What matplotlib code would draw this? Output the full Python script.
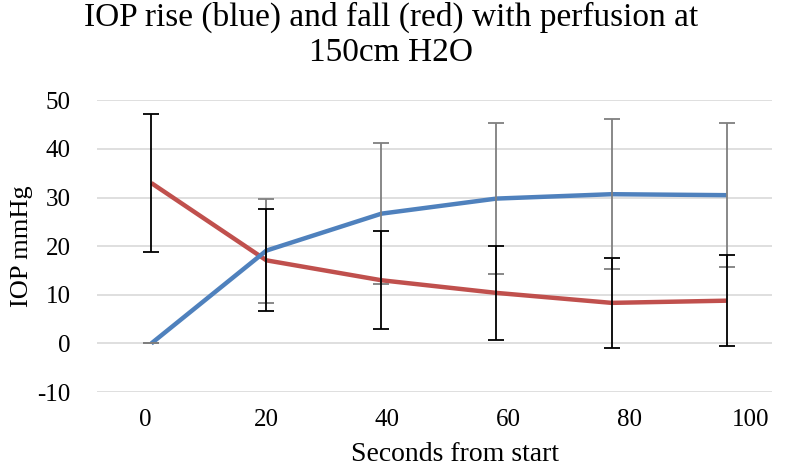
import matplotlib
matplotlib.use('Agg')
import matplotlib.pyplot as plt

# seconds from start
secs = [1, 20, 39, 58, 77, 96]

# IOP rise (blue) with its error bars
rise = [0, 19.1, 26.7, 29.8, 30.7, 30.5]
rise_err = [0, 10.7, 14.5, 15.6, 15.4, 14.8]

# IOP fall (red) with its error bars
fall = [33.0, 17.1, 13.0, 10.4, 8.35, 8.8]
fall_err = [14.2, 10.5, 10.1, 9.6, 9.2, 9.3]

xticks = [0, 20, 40, 60, 80, 100]
yticks = [-10, 0, 10, 20, 30, 40, 50]

plt.rcParams['font.family'] = ['Liberation Serif', 'DejaVu Serif']
plt.rcParams['axes.unicode_minus'] = False

fig = plt.figure(figsize=(7.87, 4.69), dpi=100)
ax = fig.add_axes([0.123, 0.164, 0.858, 0.622])

ax.plot(secs, fall, color='#C0504D', lw=3.2, solid_capstyle='butt', zorder=3)
ax.plot(secs, rise, color='#4F81BD', lw=3.2, solid_capstyle='butt', zorder=4)
ax.errorbar(secs, rise, yerr=rise_err, fmt='none', ecolor='#7f7f7f',
            elinewidth=1.3, capsize=5.5, capthick=1.3, zorder=5)
ax.errorbar(secs, fall, yerr=fall_err, fmt='none', ecolor='black',
            elinewidth=1.3, capsize=5.5, capthick=1.3, zorder=6)

ax.set_xlim(-8, 103.5)
ax.set_ylim(-10, 50)
ax.set_xticks(xticks)
ax.set_yticks(yticks)
ax.grid(axis='y', color='#d9d9d9', lw=1.2)
ax.set_axisbelow(True)
for s in ax.spines.values():
    s.set_visible(False)
ax.tick_params(length=0, labelsize=18)
ax.tick_params(axis='x', pad=12)
ax.tick_params(axis='y', pad=19)

ax.set_xlabel('Seconds from start', fontsize=20)
ax.xaxis.set_label_coords(0.53, -0.17)
ax.set_ylabel('IOP mmHg', fontsize=19, labelpad=3)
fig.text(0.497, 0.997, 'IOP rise (blue) and fall (red) with perfusion at\n150cm H2O',
         fontsize=24, linespacing=1.2, ha='center', va='top')

fig.savefig('out.png', dpi=100)
